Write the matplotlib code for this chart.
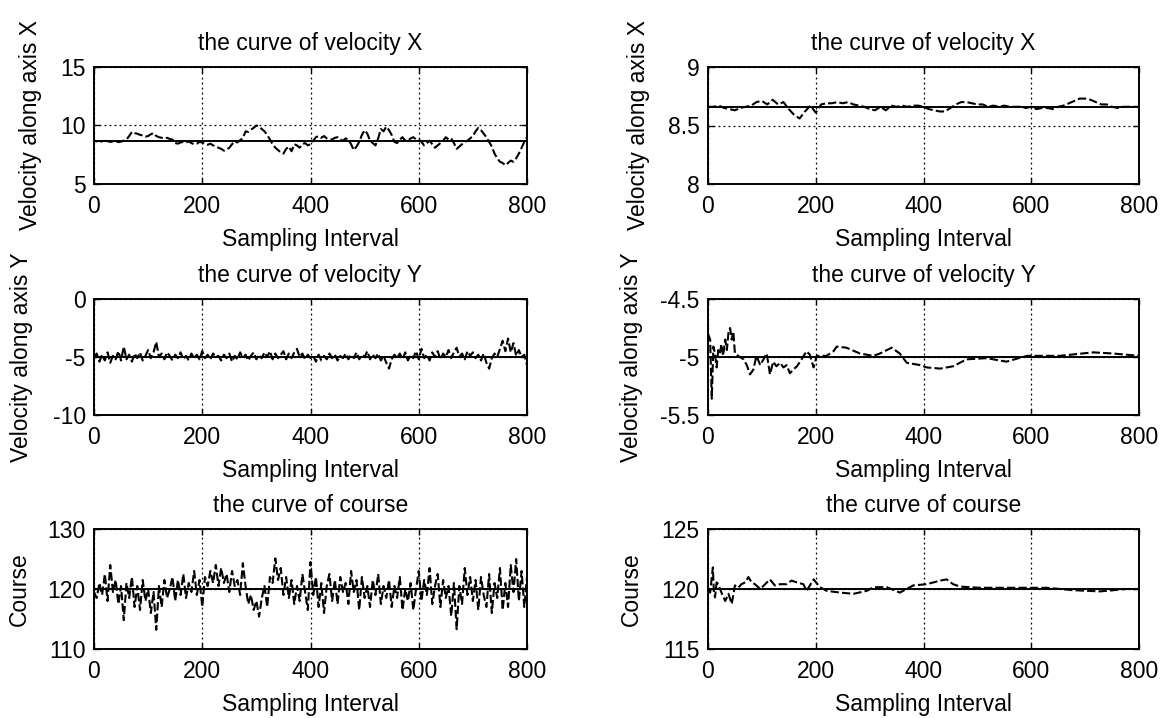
import numpy as np
import matplotlib
matplotlib.use("Agg")
import matplotlib.pyplot as plt

plt.rcParams['font.family'] = ['Liberation Sans', 'DejaVu Sans']

# ---------------- data ----------------
x_max = 800
vx_true = 8.66
vy_true = -5.0
course_true = 120.0

# left column (uniform samples 0..800)
vx_left = [8.70, 8.65, 8.68, 8.62, 8.70, 8.66, 8.60, 8.64, 8.66, 8.58, 8.62, 8.70, 8.80, 9.10, 9.45, 9.35,
           9.30, 9.20, 9.15, 9.05, 9.10, 9.25, 9.35, 9.10, 9.00, 8.95, 8.90, 8.95, 8.85, 8.80, 8.50, 8.45,
           8.55, 8.60, 8.55, 8.65, 8.50, 8.40, 8.45, 8.60, 8.55, 8.40, 8.35, 8.45, 8.30, 8.20, 8.10, 8.00,
           7.85, 7.95, 8.10, 8.40, 8.65, 8.55, 8.75, 8.90, 9.50, 9.45, 9.65, 9.80, 10.0, 9.90, 9.70, 9.50,
           9.20, 8.80, 8.40, 8.10, 7.90, 7.70, 7.60, 8.00, 8.20, 7.80, 8.40, 8.30, 8.10, 8.40, 8.50, 8.30,
           8.40, 8.70, 9.00, 9.10, 8.95, 9.10, 8.90, 8.85, 8.80, 8.95, 9.00, 8.80, 8.70, 8.90, 8.80, 8.40,
           7.90, 8.20, 8.60, 9.20, 9.60, 9.30, 8.70, 8.50, 8.30, 8.90, 9.70, 9.50, 9.90, 9.60, 9.20, 8.60,
           8.50, 8.80, 9.00, 8.70, 8.70, 8.90, 9.00, 8.80, 8.80, 8.60, 8.30, 8.50, 8.70, 8.40, 8.10, 8.30,
           8.50, 8.70, 9.00, 8.80, 8.90, 8.50, 8.00, 8.20, 8.40, 8.60, 8.70, 8.90, 9.10, 9.50, 9.80, 9.60,
           9.30, 9.00, 8.60, 8.20, 7.60, 7.20, 6.90, 6.80, 6.60, 6.80, 7.00, 6.90, 7.20, 7.60, 8.10, 8.60,
           9.00]

vy_left = [-5.0, -4.7, -5.4, -4.8, -5.3, -4.6, -5.5, -4.9, -5.2, -4.5, -5.3, -4.1, -5.2, -4.8, -5.4, -4.7,
           -5.1, -4.6, -5.3, -4.9, -4.4, -5.1, -4.6, -3.7, -5.0, -4.7, -5.2, -4.6, -4.9, -5.3, -4.8, -5.1,
           -4.6, -5.2, -4.9, -5.3, -4.7, -5.1, -4.8, -5.2, -4.5, -5.1, -4.8, -5.2, -4.7, -5.0, -4.9, -5.3,
           -4.8, -5.1, -4.7, -5.4, -4.9, -5.2, -4.6, -5.1, -4.8, -5.3, -4.9, -4.6, -5.2, -4.8, -5.1, -4.6,
           -5.0, -4.5, -5.2, -4.7, -5.1, -4.8, -4.5, -5.2, -4.7, -5.1, -4.6, -4.3, -5.0, -4.7, -5.2, -4.8,
           -5.1, -4.9, -5.4, -4.8, -5.3, -4.9, -5.2, -4.7, -5.1, -4.8, -5.3, -4.9, -5.1, -4.7, -5.2, -4.8,
           -5.1, -4.6, -5.2, -4.8, -5.0, -4.5, -5.2, -4.8, -5.1, -4.7, -5.3, -4.9, -5.5, -6.0, -5.2, -4.8,
           -5.1, -4.7, -5.2, -4.6, -5.3, -4.8, -5.1, -4.5, -5.2, -4.3, -5.1, -4.8, -5.3, -4.6, -5.0, -4.5,
           -5.2, -4.7, -5.0, -4.4, -5.1, -4.6, -4.2, -5.0, -4.7, -5.2, -4.5, -4.9, -4.6, -5.1, -4.8, -5.3,
           -4.7, -5.5, -6.0, -5.1, -4.7, -5.0, -4.3, -3.6, -4.5, -3.4, -4.6, -3.8, -4.9, -4.4, -5.0, -4.8,
           -5.7]

course_left = [119.5, 118.5, 121.0, 119.0, 122.5, 118.0, 124.0, 119.5, 121.5, 117.5, 120.5, 114.8, 121.0,
               118.5, 122.0, 117.0, 120.5, 116.5, 121.5, 118.0, 120.0, 116.0, 119.5, 113.2, 120.5, 117.0,
               121.5, 118.5, 120.0, 122.0, 118.0, 121.5, 119.0, 122.5, 118.5, 121.0, 119.5, 123.0, 119.0,
               121.5, 117.0, 122.0, 120.5, 123.0, 121.0, 124.0, 120.5, 123.5, 121.0, 122.5, 119.5, 123.0,
               120.5, 121.5, 119.0, 124.3, 120.5, 117.5, 119.0, 116.5, 118.0, 115.4, 118.5, 120.5, 117.0,
               122.0, 121.0, 125.1, 121.5, 123.5, 119.0, 122.0, 118.5, 121.5, 117.5, 120.5, 118.0, 122.5,
               119.5, 116.5, 124.5, 119.0, 122.0, 117.0, 121.0, 116.0, 120.5, 122.5, 118.0, 121.5, 117.5,
               122.0, 119.5, 121.0, 117.5, 123.0, 119.5, 121.5, 116.5, 122.0, 118.5, 120.5, 117.0, 121.5,
               119.0, 122.5, 117.5, 120.5, 118.5, 121.5, 117.0, 120.5, 118.5, 122.0, 116.5, 120.0, 118.0,
               121.0, 116.5, 120.0, 123.0, 118.0, 121.5, 119.0, 123.5, 117.5, 120.5, 122.5, 117.0, 121.5,
               118.5, 120.5, 115.5, 121.0, 113.3, 120.5, 117.5, 123.5, 119.0, 122.0, 118.0, 121.5, 116.5,
               122.0, 119.0, 117.0, 122.5, 116.0, 121.0, 118.5, 123.5, 116.5, 121.0, 117.0, 124.0, 119.5,
               125.0, 118.0, 123.0, 117.0, 122.0]

# right column
vx_right = [8.66, 8.66, 8.67, 8.65, 8.64, 8.63, 8.65, 8.66, 8.67, 8.70, 8.71, 8.68, 8.72, 8.68, 8.70, 8.64,
            8.59, 8.56, 8.62, 8.67, 8.61, 8.68, 8.69, 8.69, 8.70, 8.69, 8.70, 8.68, 8.67, 8.66, 8.64, 8.63,
            8.66, 8.63, 8.67, 8.66, 8.67, 8.66, 8.67, 8.67, 8.66, 8.64, 8.63, 8.62, 8.62, 8.65, 8.68, 8.70,
            8.70, 8.69, 8.68, 8.68, 8.66, 8.67, 8.66, 8.67, 8.66, 8.66, 8.66, 8.65, 8.66, 8.64, 8.65, 8.65,
            8.64, 8.66, 8.67, 8.69, 8.71, 8.73, 8.73, 8.72, 8.70, 8.68, 8.68, 8.66, 8.65, 8.66, 8.66, 8.66,
            8.66]

vy_right_x = [0, 4, 7, 10, 13, 16, 19, 22, 25, 28, 32, 35, 38, 41, 44, 47, 50, 56, 66, 72, 78, 84, 90, 97,
              103, 109, 115, 121, 127, 134, 140, 146, 152, 158, 165, 171, 183, 189, 196, 202, 220, 233, 239,
              257, 282, 307, 319, 341, 356, 369, 394, 406, 431, 455, 480, 517, 554, 592, 653, 715, 752, 800]
vy_right = [-4.80, -4.85, -5.36, -4.91, -4.97, -5.09, -4.94, -4.97, -4.89, -4.99, -4.85, -4.94, -4.79, -4.75,
            -4.85, -4.78, -4.97, -4.99, -5.02, -5.07, -5.15, -5.11, -4.99, -5.07, -5.02, -4.97, -5.15, -5.04,
            -5.08, -5.05, -5.09, -5.07, -5.14, -5.11, -5.08, -5.04, -4.95, -4.98, -5.09, -4.99, -4.99, -4.95,
            -4.91, -4.92, -4.97, -4.99, -4.97, -4.92, -4.97, -5.05, -5.07, -5.09, -5.10, -5.08, -5.02, -5.01,
            -5.04, -4.99, -4.99, -4.96, -4.97, -4.99]

course_right_x = [0, 4, 9, 11, 13, 16, 19, 25, 32, 38, 44, 50, 56, 62, 69, 75, 81, 87, 97, 106, 115, 124,
                  134, 146, 155, 165, 177, 183, 196, 208, 220, 245, 270, 295, 307, 332, 356, 381, 406, 431,
                  443, 455, 468, 505, 579, 629, 678, 728, 777, 800]
course_right = [120.0, 119.7, 121.8, 119.7, 119.3, 120.55, 120.4, 119.7, 119.0, 119.6, 118.75, 120.3, 120.1,
                120.4, 120.55, 121.0, 120.55, 120.4, 120.0, 120.4, 120.8, 120.3, 120.4, 120.4, 120.7, 120.55,
                120.4, 119.85, 120.8, 120.15, 119.85, 119.7, 119.6, 119.85, 120.15, 120.15, 119.7, 120.3,
                120.4, 120.7, 120.8, 120.4, 120.2, 120.1, 120.1, 120.1, 119.9, 119.8, 120.0, 120.0]

xticks = [0, 200, 400, 600, 800]
title_x = "the curve of velocity X"
title_y = "the curve of velocity Y"
title_c = "the curve of course"
xlabel = "Sampling Interval"
ylab_x = "Velocity along axis X"
ylab_y = "Velocity along axis Y"
ylab_c = "Course"

# ---------------- figure ----------------
W, H = 1165, 718
fig = plt.figure(figsize=(W / 100, H / 100), dpi=100)


def px_axes(left, top, right, bottom):
    return fig.add_axes([left / W, 1 - bottom / H, (right - left) / W, (bottom - top) / H])


FS = 16.5


def style(ax, ylim, yticks, yticklabels, title, ylabel, ylab_off):
    ax.set_xlim(0, x_max)
    ax.set_ylim(*ylim)
    ax.set_xticks(xticks)
    ax.set_yticks(yticks)
    ax.set_yticklabels(yticklabels)
    ax.tick_params(direction='in', length=4, width=1, labelsize=FS, top=True, right=True,
                   colors='black')
    ax.tick_params(axis='x', pad=8)
    ax.tick_params(axis='y', pad=6)
    ax.grid(True, color='black', linestyle=(0, (1.5, 2.5)), linewidth=0.9)
    for s in ax.spines.values():
        s.set_linewidth(1.4)
        s.set_color('black')
    ax.set_title(title, fontsize=FS, pad=12)
    ax.set_xlabel(xlabel, fontsize=FS, labelpad=7)
    ax.set_ylabel(ylabel, fontsize=FS)
    ax.yaxis.set_label_coords(ylab_off, 0.5)


def plot_series(ax, x, y, true_val):
    ax.plot(x, y, color='black', linestyle=(0, (4, 1.5)), linewidth=1.5)
    ax.axhline(true_val, color='black', linewidth=1.4)


L0, L1 = 94, 527
R0, R1 = 708, 1139
rows = [(67, 184), (299, 415), (529, 649)]

# left column
ax = px_axes(L0, rows[0][0], L1, rows[0][1])
plot_series(ax, np.linspace(0, x_max, len(vx_left)), vx_left, vx_true)
style(ax, (5, 15), [5, 10, 15], ['5', '10', '15'], title_x, ylab_x, -0.120)

ax = px_axes(L0, rows[1][0], L1, rows[1][1])
plot_series(ax, np.linspace(0, x_max, len(vy_left)), vy_left, vy_true)
style(ax, (-10, 0), [-10, -5, 0], ['-10', '-5', '0'], title_y, ylab_y, -0.141)

ax = px_axes(L0, rows[2][0], L1, rows[2][1])
plot_series(ax, np.linspace(0, x_max, len(course_left)), course_left, course_true)
style(ax, (110, 130), [110, 120, 130], ['110', '120', '130'], title_c, ylab_c, -0.145)

# right column
ax = px_axes(R0, rows[0][0], R1, rows[0][1])
plot_series(ax, np.linspace(0, x_max, len(vx_right)), vx_right, vx_true)
style(ax, (8, 9), [8, 8.5, 9], ['8', '8.5', '9'], title_x, ylab_x, -0.135)

ax = px_axes(R0, rows[1][0], R1, rows[1][1])
plot_series(ax, vy_right_x, vy_right, vy_true)
style(ax, (-5.5, -4.5), [-5.5, -5, -4.5], ['-5.5', '-5', '-4.5'], title_y, ylab_y, -0.150)

ax = px_axes(R0, rows[2][0], R1, rows[2][1])
plot_series(ax, course_right_x, course_right, course_true)
style(ax, (115, 125), [115, 120, 125], ['115', '120', '125'], title_c, ylab_c, -0.151)

fig.savefig("out.png", dpi=100)
